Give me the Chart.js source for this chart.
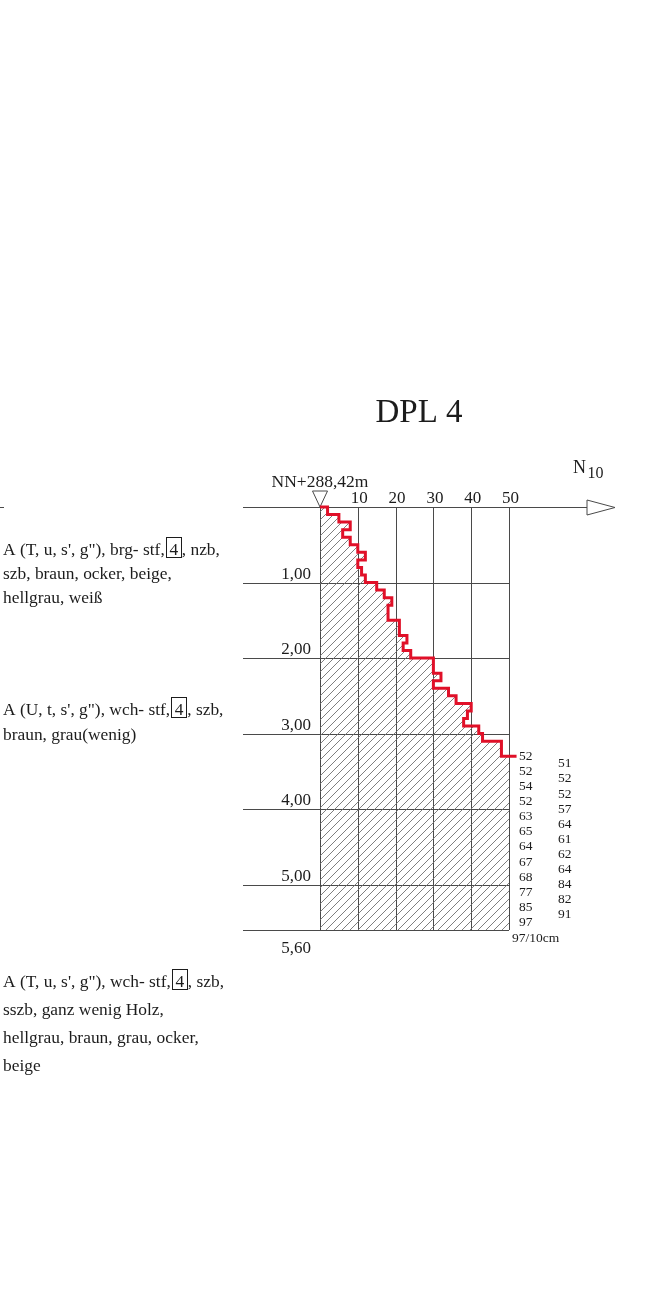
<!DOCTYPE html>
<html><head><meta charset="utf-8">
<script src="https://cdn.jsdelivr.net/npm/chart.js@4.4.1/dist/chart.umd.min.js"></script>
<style>html,body{margin:0;padding:0;background:#fff;}canvas{display:block;}</style>
</head><body>
<canvas id="c" width="651" height="1292"></canvas>
<script>
// ---- data ----
const depthStep = 0.1; // m per blow-count interval
const n10 = [2,5,8,6,8,10,12,10,11,12,
             15,17,19,18,18,21,21,23,22,24,
             30,30,32,30,34,36,40,39,38,42,
             43,48,48,52,51,52,52,54,52,52,
             57,63,64,65,61,64,62,67,64,68,
             84,77,82,85,91,97];
const xTickValues = [10,20,30,40,50];
const depthTickValues = [1,2,3,4,5,5.6];
const depthTickLabels = ["1,00","2,00","3,00","4,00","5,00","5,60"];
const xMax = 50;
const depthMax = 5.6;
const titleText = "DPL 4";
const elevationLabel = "NN+288,42m";
const endLabel = "97/10cm";
const descriptions = [
  {lines:[["A (T, u, s', g\"), brg- stf,","4",", nzb,"],["szb, braun, ocker, beige,"],["hellgrau, weiß"]], base:[555,579,603]},
  {lines:[["A (U, t, s', g\"), wch- stf,","4",", szb,"],["braun, grau(wenig)"]], base:[715,740]},
  {lines:[["A (T, u, s', g\"), wch- stf,","4",", szb,"],["sszb, ganz wenig Holz,"],["hellgrau, braun, grau, ocker,"],["beige"]], base:[987,1015,1043,1071]}
];

// ---- derived series ----
const redPts = [{x:0,y:0}];
let firstOver = n10.length;
for (let k=0;k<n10.length;k++){
  if (n10[k] > xMax){ firstOver = k; redPts.push({x:n10[k], y:k*depthStep}); break; }
  redPts.push({x:n10[k], y:k*depthStep});
  redPts.push({x:n10[k], y:(k+1)*depthStep});
}
const hatchPts = [{x:0,y:0}];
n10.forEach((v,i)=>{const c=Math.min(v,xMax); hatchPts.push({x:c,y:i*depthStep},{x:c,y:(i+1)*depthStep});});
hatchPts.push({x:0,y:depthMax},{x:0,y:0});

// hatch pattern
const pc = document.createElement('canvas'); pc.width=8; pc.height=8;
const pctx = pc.getContext('2d');
pctx.strokeStyle='#707070'; pctx.lineWidth=0.9;
pctx.beginPath(); pctx.moveTo(0,8); pctx.lineTo(8,0); pctx.moveTo(-1,1); pctx.lineTo(1,-1); pctx.moveTo(7,9); pctx.lineTo(9,7); pctx.stroke();
const hatch = pctx.createPattern(pc,'repeat');

const SERIF = '"Liberation Serif","Times New Roman",serif';
const INK = '#1c1c1c';
const GRID = '#4a4a4a';

const deco = {
  id:'deco',
  beforeDraw(chart){ const c=chart.ctx; c.save(); c.fillStyle='#fff'; c.fillRect(0,0,chart.width,chart.height); c.restore(); },
  beforeDatasetsDraw(chart){
    const c=chart.ctx, xs=chart.scales.x, ys=chart.scales.y;
    c.save(); c.strokeStyle=GRID; c.lineWidth=1;
    const x0=xs.getPixelForValue(0), x50=xs.getPixelForValue(xMax);
    const yTop=ys.getPixelForValue(0), yBot=ys.getPixelForValue(depthMax);
    c.beginPath();
    [0].concat(xTickValues).forEach(v=>{const px=Math.round(xs.getPixelForValue(v))+0.5; c.moveTo(px,yTop); c.lineTo(px,yBot);});
    depthTickValues.forEach(d=>{const py=Math.round(ys.getPixelForValue(d))+0.5; c.moveTo(243,py); c.lineTo(x50,py);});
    const py0=Math.round(yTop)+0.5;
    c.moveTo(243,py0); c.lineTo(587,py0);
    c.moveTo(0,py0); c.lineTo(4,py0);
    c.stroke();
    // arrow
    c.beginPath(); c.moveTo(587,py0-7.5); c.lineTo(615,py0); c.lineTo(587,py0+7.5); c.closePath(); c.stroke();
    // surface triangle
    c.beginPath(); c.moveTo(x0-7.5,491); c.lineTo(x0+7.5,491); c.lineTo(x0,yTop); c.closePath(); c.stroke();
    c.restore();
  },
  afterDraw(chart){
    const c=chart.ctx, xs=chart.scales.x, ys=chart.scales.y;
    c.save(); c.fillStyle=INK; c.strokeStyle=INK;
    // title
    c.font='33px '+SERIF; c.textAlign='center'; c.textBaseline='alphabetic';
    c.fillText(titleText,419,422);
    // elevation label
    c.font='17.5px '+SERIF; c.fillText(elevationLabel, xs.getPixelForValue(0), 487);
    // x ticks
    c.font='17px '+SERIF;
    xTickValues.forEach(v=>c.fillText(String(v), xs.getPixelForValue(v)+1.5, 503));
    // N10
    c.textAlign='left'; c.font='18px '+SERIF; c.fillText('N',573,473);
    c.font='16px '+SERIF; c.fillText('10',587.5,477.5);
    // depth labels
    c.textAlign='right'; c.font='17px '+SERIF;
    depthTickValues.forEach((d,i)=>{
      const py=ys.getPixelForValue(d);
      const last = i===depthTickValues.length-1;
      c.fillText(depthTickLabels[i],311, last ? py+23 : py-4);
    });
    // blow counts beyond scale
    c.textAlign='left'; c.textBaseline='middle'; c.font='13.5px '+SERIF;
    for(let k=firstOver;k<n10.length;k++){
      const col=(k-firstOver)%2;
      c.fillText(String(n10[k]), col===0?519:558, ys.getPixelForValue(k*depthStep));
    }
    c.fillText(endLabel,512,938.5);
    // descriptions
    c.textBaseline='alphabetic'; c.font='17.4px '+SERIF; c.lineWidth=1;
    descriptions.forEach(b=>{
      b.lines.forEach((parts,li)=>{
        const by=b.base[li]; let x=3;
        c.fillText(parts[0],x,by); x+=c.measureText(parts[0]).width;
        if(parts.length>1){
          const bx=x+1, bw=15;
          c.strokeRect(Math.round(bx)+0.5, by-18+0.5, bw, 20);
          c.textAlign='center'; c.fillText(parts[1], bx+bw/2+0.5, by); c.textAlign='left';
          x=bx+bw+1;
          c.fillText(parts[2],x,by);
        }
      });
    });
    c.restore();
  }
};

new Chart(document.getElementById('c'), {
  type:'scatter',
  data:{datasets:[
    {label:'N10', data:redPts, showLine:true, borderColor:'#e01028', borderWidth:3, pointRadius:0, fill:false, clip:false, tension:0, borderJoinStyle:'miter'},
    {label:'hatch', data:hatchPts, showLine:true, borderColor:'rgba(0,0,0,0)', borderWidth:0, backgroundColor:hatch, fill:'shape', pointRadius:0, tension:0}
  ]},
  options:{
    responsive:false, animation:false, events:[],
    layout:{padding:{left:320,right:142,top:507,bottom:362}},
    plugins:{legend:{display:false}, tooltip:{enabled:false}},
    scales:{
      x:{type:'linear', min:0, max:xMax, display:false},
      y:{type:'linear', min:0, max:depthMax, reverse:true, display:false}
    }
  },
  plugins:[deco]
});
</script>
</body></html>
